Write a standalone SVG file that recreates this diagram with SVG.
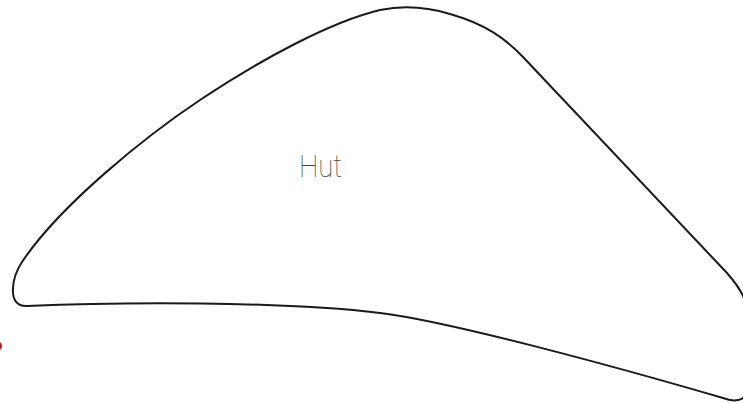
<svg xmlns="http://www.w3.org/2000/svg" width="743" height="403" viewBox="0 0 743 403">
<style>
.shape{fill:#fff;stroke:#1a1a1a;stroke-width:2;stroke-linejoin:round}
.lbl{font-family:Roboto,Lato,"Open Sans",sans-serif;font-weight:100;font-size:31px;fill:#444}
</style>
<rect width="743" height="403" fill="#fff"/>
<g id="hut">
<path class="shape" d="M 27 306 C 120 302, 280 301, 380 313 C 450 321.4, 620 368, 723 398 C 733 402, 745 402, 748 390 L 748 320 C 748 300, 740 288, 727 273 L 523 57 C 505 38, 485 24, 450 14 C 430 8, 405 5, 380 10 C 330 22, 260 60, 200 100 C 146 136, 60 205, 22 262 C 12 277, 6 306.8, 27 306 Z"/>
<text class="lbl" x="299" y="177" textLength="43" lengthAdjust="spacingAndGlyphs">Hut</text>
</g>
<g id="marker-dot">
<circle cx="-3" cy="346" r="5" fill="#b02020"/>
</g>
<g id="connectors"></g>
</svg>
